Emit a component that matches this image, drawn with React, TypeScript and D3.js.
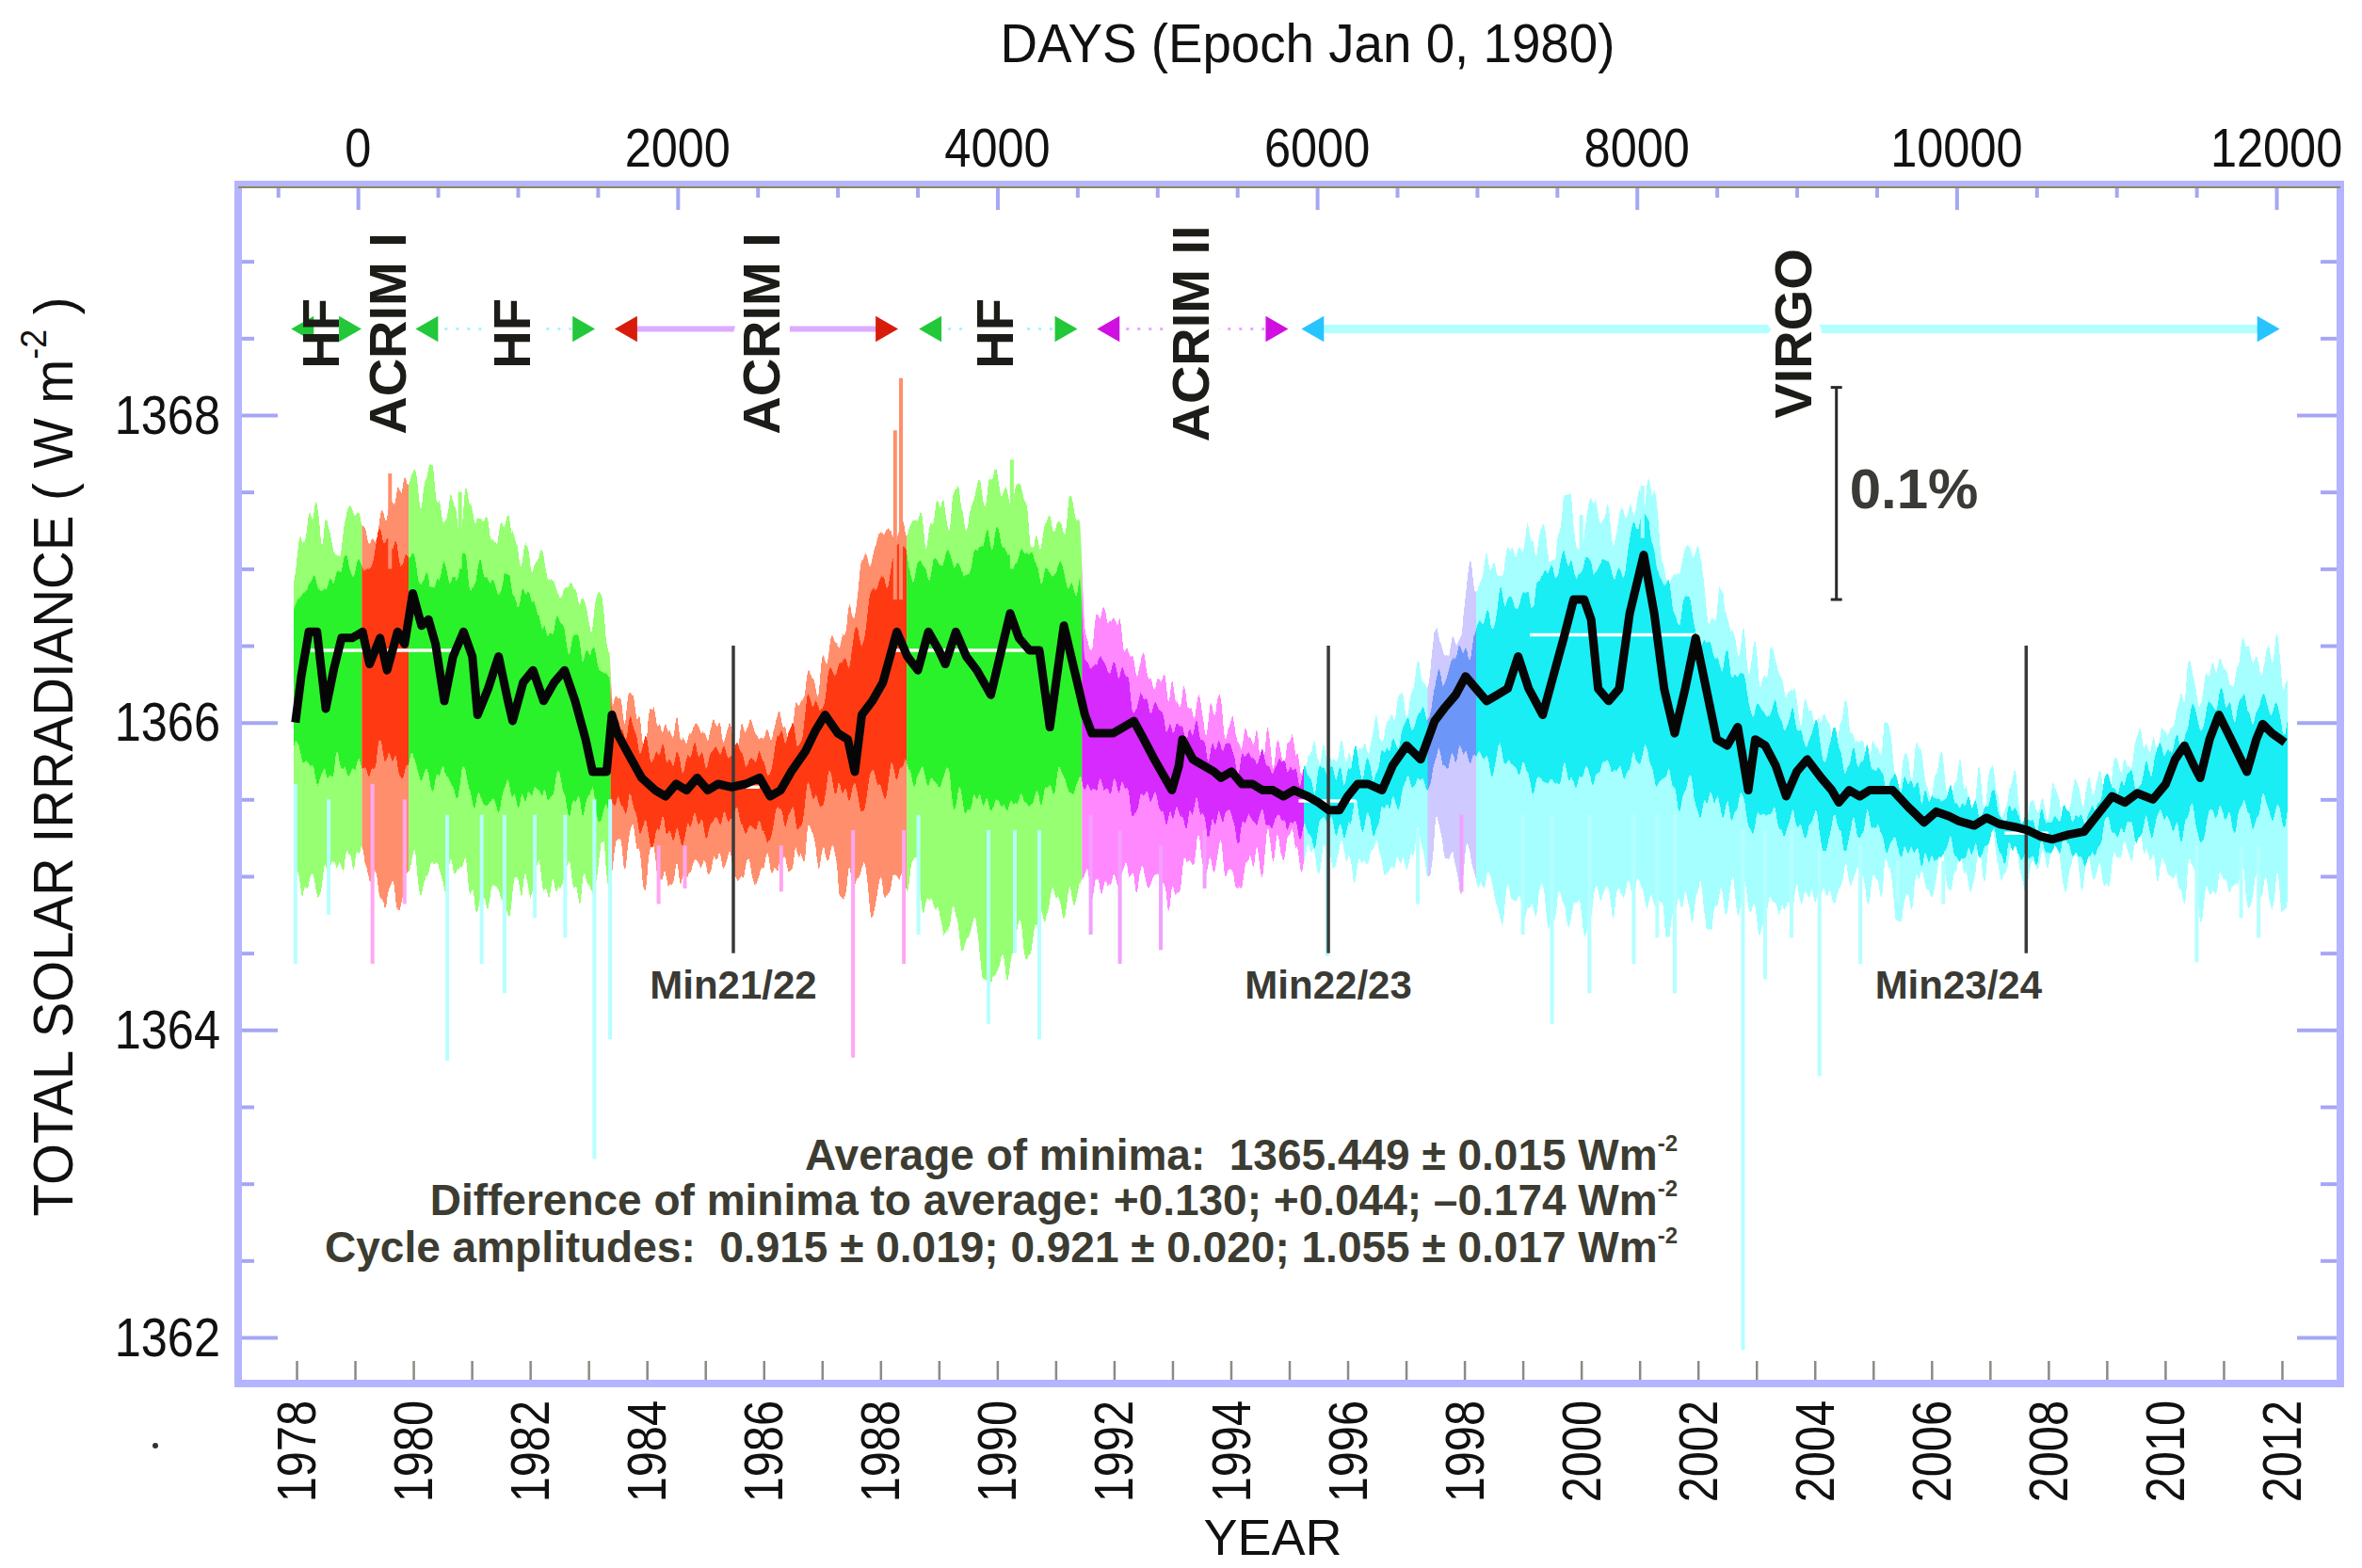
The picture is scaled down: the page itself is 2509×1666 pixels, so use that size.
import React, { useEffect, useRef } from 'react';
import * as d3 from 'd3';

const FONT = '"Liberation Sans", Arial, Helvetica, sans-serif';

// smoothed composite (black line): [year, W m-2]
const meanCurve: [number, number][] = [
  [1977.98, 1366.0], [1978.08, 1366.3], [1978.21, 1366.59], [1978.35, 1366.59], [1978.5, 1366.09],
  [1978.64, 1366.35], [1978.77, 1366.55], [1978.95, 1366.55], [1979.13, 1366.59], [1979.25, 1366.38],
  [1979.43, 1366.55], [1979.55, 1366.34], [1979.73, 1366.59], [1979.85, 1366.51], [1979.99, 1366.84],
  [1980.14, 1366.63], [1980.26, 1366.67], [1980.38, 1366.51], [1980.53, 1366.14], [1980.68, 1366.43],
  [1980.86, 1366.59], [1981.01, 1366.43], [1981.1, 1366.05], [1981.28, 1366.22], [1981.46, 1366.43],
  [1981.62, 1366.14], [1981.7, 1366.01], [1981.88, 1366.26], [1982.05, 1366.34], [1982.23, 1366.14],
  [1982.41, 1366.26], [1982.59, 1366.34], [1982.77, 1366.14], [1982.95, 1365.89], [1983.07, 1365.68],
  [1983.31, 1365.68], [1983.4, 1366.05], [1983.49, 1365.93], [1983.66, 1365.81], [1983.91, 1365.64],
  [1984.14, 1365.56], [1984.32, 1365.52], [1984.5, 1365.6], [1984.68, 1365.56], [1984.86, 1365.64],
  [1985.04, 1365.56], [1985.22, 1365.6], [1985.45, 1365.58], [1985.69, 1365.6], [1985.93, 1365.64],
  [1986.11, 1365.52], [1986.29, 1365.56], [1986.47, 1365.68], [1986.71, 1365.81], [1986.89, 1365.95],
  [1987.05, 1366.05], [1987.27, 1365.93], [1987.44, 1365.89], [1987.56, 1365.68], [1987.68, 1366.05],
  [1987.86, 1366.14], [1988.04, 1366.26], [1988.28, 1366.59], [1988.46, 1366.43], [1988.64, 1366.34],
  [1988.82, 1366.59], [1989.0, 1366.47], [1989.11, 1366.38], [1989.29, 1366.59], [1989.47, 1366.43],
  [1989.65, 1366.34], [1989.89, 1366.18], [1990.07, 1366.47], [1990.22, 1366.71], [1990.37, 1366.55],
  [1990.55, 1366.47], [1990.72, 1366.47], [1990.9, 1365.97], [1991.02, 1366.3], [1991.14, 1366.63],
  [1991.32, 1366.34], [1991.5, 1366.05], [1991.62, 1365.93], [1991.8, 1365.93], [1991.98, 1365.93],
  [1992.16, 1365.97], [1992.34, 1366.01], [1992.51, 1365.89], [1992.69, 1365.76], [1992.87, 1365.64],
  [1992.99, 1365.56], [1993.11, 1365.72], [1993.17, 1365.89], [1993.35, 1365.76], [1993.53, 1365.72],
  [1993.71, 1365.68], [1993.83, 1365.64], [1994.01, 1365.68], [1994.19, 1365.6], [1994.37, 1365.6],
  [1994.54, 1365.56], [1994.72, 1365.56], [1994.9, 1365.52], [1995.08, 1365.56], [1995.32, 1365.52],
  [1995.5, 1365.48], [1995.68, 1365.43], [1995.86, 1365.43], [1996.0, 1365.52], [1996.17, 1365.6],
  [1996.35, 1365.6], [1996.59, 1365.56], [1996.77, 1365.72], [1997.01, 1365.85], [1997.25, 1365.76],
  [1997.49, 1366.01], [1997.67, 1366.1], [1997.85, 1366.18], [1998.02, 1366.3], [1998.2, 1366.22],
  [1998.38, 1366.14], [1998.56, 1366.18], [1998.74, 1366.22], [1998.92, 1366.43], [1999.1, 1366.22],
  [1999.34, 1366.05], [1999.52, 1366.3], [1999.7, 1366.55], [1999.87, 1366.8], [2000.05, 1366.8],
  [2000.17, 1366.67], [2000.29, 1366.22], [2000.47, 1366.14], [2000.65, 1366.22], [2000.83, 1366.71],
  [2001.07, 1367.09], [2001.25, 1366.71], [2001.42, 1366.22], [2001.6, 1365.93], [2001.78, 1366.22],
  [2001.96, 1366.55], [2002.14, 1366.22], [2002.32, 1365.89], [2002.5, 1365.85], [2002.68, 1365.97],
  [2002.86, 1365.56], [2002.98, 1365.89], [2003.15, 1365.85], [2003.33, 1365.72], [2003.51, 1365.52],
  [2003.69, 1365.68], [2003.87, 1365.76], [2004.11, 1365.64], [2004.29, 1365.56], [2004.41, 1365.48],
  [2004.59, 1365.56], [2004.77, 1365.52], [2004.94, 1365.56], [2005.06, 1365.56], [2005.33, 1365.56],
  [2005.6, 1365.45], [2005.87, 1365.35], [2006.08, 1365.42], [2006.3, 1365.39], [2006.46, 1365.36],
  [2006.73, 1365.33], [2006.94, 1365.38], [2007.16, 1365.34], [2007.43, 1365.32], [2007.64, 1365.3],
  [2007.86, 1365.26], [2008.07, 1365.24], [2008.34, 1365.27], [2008.61, 1365.29], [2008.82, 1365.39],
  [2009.09, 1365.52], [2009.31, 1365.48], [2009.52, 1365.54], [2009.79, 1365.5], [2010.01, 1365.6],
  [2010.17, 1365.76], [2010.33, 1365.85], [2010.49, 1365.72], [2010.6, 1365.64], [2010.76, 1365.89],
  [2010.92, 1366.05], [2011.13, 1365.89], [2011.4, 1365.68], [2011.56, 1365.89], [2011.67, 1365.99],
  [2011.83, 1365.93], [2012.05, 1365.87],
];

// spread of the daily values: [year, outer low, inner low, inner high, outer high]
const envelope: [number, number, number, number, number][] = [
  [1977.95, 1364.95, 1365.75, 1366.6, 1366.95], [1978.5, 1365.0, 1365.7, 1366.95, 1367.3],
  [1979.0, 1365.15, 1365.7, 1366.95, 1367.25], [1979.5, 1364.9, 1365.75, 1367.15, 1367.4],
  [1980.0, 1365.0, 1365.7, 1367.05, 1367.5], [1980.5, 1365.05, 1365.65, 1367.0, 1367.45],
  [1981.0, 1364.95, 1365.55, 1366.95, 1367.3], [1981.5, 1364.9, 1365.5, 1366.85, 1367.25],
  [1982.0, 1364.95, 1365.55, 1366.75, 1367.05], [1982.5, 1365.0, 1365.55, 1366.6, 1366.85],
  [1983.0, 1365.0, 1365.45, 1366.45, 1366.7], [1983.35, 1365.05, 1365.45, 1366.4, 1366.6],
  [1983.42, 1365.2, 1365.5, 1366.05, 1366.25], [1984.0, 1365.1, 1365.3, 1365.85, 1366.0],
  [1984.5, 1365.0, 1365.3, 1365.75, 1365.9], [1985.0, 1365.05, 1365.35, 1365.8, 1365.95],
  [1985.5, 1365.1, 1365.35, 1365.8, 1365.95], [1986.0, 1365.05, 1365.3, 1365.75, 1365.9],
  [1986.5, 1365.1, 1365.4, 1365.95, 1366.1], [1987.0, 1365.15, 1365.55, 1366.15, 1366.35],
  [1987.5, 1365.0, 1365.55, 1366.45, 1366.7], [1988.0, 1364.9, 1365.6, 1366.9, 1367.2],
  [1988.5, 1364.95, 1365.7, 1367.05, 1367.35], [1989.0, 1364.8, 1365.6, 1367.0, 1367.3],
  [1989.5, 1364.6, 1365.5, 1367.1, 1367.4], [1990.0, 1364.5, 1365.45, 1367.15, 1367.45],
  [1990.5, 1364.6, 1365.5, 1367.05, 1367.35], [1991.0, 1364.8, 1365.6, 1367.0, 1367.3],
  [1991.4, 1364.85, 1365.6, 1366.95, 1367.25], [1991.5, 1364.95, 1365.6, 1366.45, 1366.7],
  [1992.0, 1365.0, 1365.55, 1366.3, 1366.6], [1992.5, 1364.95, 1365.5, 1366.15, 1366.35],
  [1993.0, 1364.95, 1365.4, 1366.0, 1366.2], [1993.5, 1365.1, 1365.4, 1365.9, 1366.05],
  [1994.0, 1365.1, 1365.35, 1365.8, 1365.95], [1994.5, 1365.15, 1365.35, 1365.75, 1365.85],
  [1995.0, 1365.2, 1365.35, 1365.7, 1365.8], [1995.5, 1365.1, 1365.3, 1365.65, 1365.75],
  [1996.0, 1365.15, 1365.35, 1365.7, 1365.8], [1996.5, 1365.05, 1365.4, 1365.75, 1365.9],
  [1997.0, 1365.15, 1365.55, 1365.95, 1366.15], [1997.5, 1365.2, 1365.7, 1366.2, 1366.4],
  [1998.0, 1365.05, 1365.8, 1366.5, 1366.8], [1998.5, 1364.9, 1365.75, 1366.7, 1367.1],
  [1999.0, 1364.8, 1365.7, 1366.85, 1367.15], [1999.5, 1364.75, 1365.6, 1366.95, 1367.25],
  [2000.0, 1364.8, 1365.65, 1367.05, 1367.3], [2000.5, 1364.85, 1365.7, 1366.95, 1367.25],
  [2001.0, 1364.9, 1365.75, 1367.25, 1367.55], [2001.5, 1364.8, 1365.6, 1366.85, 1367.1],
  [2002.0, 1364.85, 1365.5, 1366.65, 1366.95], [2002.5, 1364.85, 1365.45, 1366.35, 1366.6],
  [2003.0, 1364.8, 1365.4, 1366.15, 1366.4], [2003.5, 1364.85, 1365.35, 1366.0, 1366.2],
  [2004.0, 1364.85, 1365.3, 1365.9, 1366.05], [2004.5, 1365.0, 1365.3, 1365.8, 1365.95],
  [2005.0, 1365.0, 1365.3, 1365.7, 1365.85], [2005.5, 1364.9, 1365.2, 1365.62, 1365.75],
  [2006.0, 1365.0, 1365.15, 1365.52, 1365.65], [2006.5, 1365.05, 1365.15, 1365.48, 1365.6],
  [2007.0, 1365.1, 1365.2, 1365.45, 1365.55], [2007.5, 1365.05, 1365.15, 1365.4, 1365.48],
  [2008.0, 1365.05, 1365.15, 1365.35, 1365.42], [2008.5, 1365.05, 1365.15, 1365.4, 1365.5],
  [2009.0, 1365.1, 1365.25, 1365.55, 1365.65], [2009.5, 1365.15, 1365.3, 1365.65, 1365.8],
  [2010.0, 1365.1, 1365.35, 1365.8, 1365.95], [2010.5, 1364.9, 1365.35, 1366.0, 1366.25],
  [2011.0, 1364.9, 1365.4, 1366.1, 1366.4], [2011.5, 1364.85, 1365.4, 1366.1, 1366.45],
  [2012.1, 1365.0, 1365.45, 1366.05, 1366.4],
];

// single daily excursions outside the spread: [year, low, high]
const spikes: [number, number, number][] = [
  [1977.98, 1364.43, 1365.6], [1978.55, 1364.75, 1365.5], [1979.3, 1364.43, 1365.6], [1979.85, 1364.82, 1365.5],
  [1980.58, 1363.8, 1365.4], [1981.17, 1364.43, 1365.4], [1981.56, 1364.24, 1365.4], [1982.08, 1364.73, 1365.4],
  [1982.6, 1364.6, 1365.4], [1983.1, 1363.16, 1365.5], [1983.37, 1363.94, 1365.5], [1984.2, 1364.82, 1365.2],
  [1984.65, 1364.92, 1365.2], [1986.3, 1364.9, 1365.2], [1987.53, 1363.82, 1365.3], [1988.4, 1364.43, 1365.3],
  [1988.65, 1364.62, 1365.4], [1989.85, 1364.04, 1365.3], [1990.3, 1364.5, 1365.3], [1990.72, 1363.94, 1365.3],
  [1991.6, 1364.62, 1365.4], [1992.1, 1364.43, 1365.3], [1992.8, 1364.52, 1365.2], [1993.55, 1364.92, 1365.3],
  [1995.65, 1364.48, 1365.2], [1997.2, 1364.82, 1365.3], [1997.95, 1364.9, 1365.4], [1999.0, 1364.62, 1365.4],
  [1999.5, 1364.04, 1365.4], [2000.14, 1364.24, 1365.4], [2000.9, 1364.43, 1365.4], [2001.3, 1364.6, 1365.4],
  [2001.6, 1364.24, 1365.4], [2002.77, 1361.92, 1365.3], [2003.15, 1364.33, 1365.3], [2003.6, 1364.6, 1365.3],
  [2004.08, 1363.7, 1365.2], [2004.78, 1364.43, 1365.2], [2005.42, 1364.82, 1365.1], [2006.2, 1364.82, 1365.1],
  [2010.54, 1364.44, 1365.2], [2011.3, 1364.73, 1365.2], [2011.6, 1364.6, 1365.2],
  [1979.6, 1367.0, 1367.62], [1980.8, 1367.0, 1367.5], [1988.25, 1366.8, 1367.9], [1988.35, 1366.8, 1368.24],
  [1990.25, 1367.0, 1367.71], [2000.0, 1367.0, 1367.35], [2001.05, 1367.2, 1367.54],
];

// instrument that supplies the composite, by time (last one wins where they overlap)
const coverage = [
  { inst: 'HF', start: 1977.95, end: 1979.12 },
  { inst: 'ACRIM I', start: 1979.12, end: 1979.92 },
  { inst: 'HF', start: 1979.92, end: 1983.38 },
  { inst: 'ACRIM I', start: 1983.38, end: 1988.45 },
  { inst: 'HF', start: 1988.45, end: 1991.45 },
  { inst: 'ACRIM II', start: 1991.45, end: 1995.25 },
  { inst: 'VIRGO', start: 1995.25, end: 2012.1 },
  { inst: 'ACRIM II', start: 1997.37, end: 1998.2 },
];

// timeline at the top of the frame
const timelineSpans = [
  { inst: 'HF', start: 1978.02, end: 1979.0 },
  { inst: 'HF', start: 1980.15, end: 1983.0 },
  { inst: 'ACRIM I', start: 1983.56, end: 1988.19 },
  { inst: 'HF', start: 1988.77, end: 1991.26 },
  { inst: 'ACRIM II', start: 1991.82, end: 1994.87 },
  { inst: 'VIRGO', start: 1995.32, end: 2011.85 },
];
const timelineLabels = [
  { text: 'HF', year: 1978.41 },
  { text: 'ACRIM I', year: 1979.55 },
  { text: 'HF', year: 1981.69 },
  { text: 'ACRIM I', year: 1985.95 },
  { text: 'HF', year: 1989.95 },
  { text: 'ACRIM II', year: 1993.3 },
  { text: 'VIRGO', year: 2003.62 },
];

// cycle maximum / minimum levels (white bars)
const cycleLevels = [
  { start: 1978.24, end: 1980.8, tsi: 1366.47 },
  { start: 1984.98, end: 1985.93, tsi: 1365.58 },
  { start: 1988.16, end: 1990.79, tsi: 1366.47 },
  { start: 1995.16, end: 1996.14, tsi: 1365.49 },
  { start: 1999.12, end: 2002.02, tsi: 1366.57 },
  { start: 2007.25, end: 2008.0, tsi: 1365.28 },
];

const minima = [
  { label: 'Min21/22', year: 1985.48, labelYear: 1985.48 },
  { label: 'Min22/23', year: 1995.67, labelYear: 1995.67 },
  { label: 'Min23/24', year: 2007.62, labelYear: 2006.46 },
];
const minBarRange = [1364.5, 1366.5];

const scaleBar = { year: 2004.37, top: 1368.18, bottom: 1366.8, label: '0.1%' };

const summaryLines = [
  'Average of minima:  1365.449 \u00b1 0.015 Wm',
  'Difference of minima to average: +0.130; +0.044; \u20130.174 Wm',
  'Cycle amplitudes:  0.915 \u00b1 0.019; 0.921 \u00b1 0.020; 1.055 \u00b1 0.017 Wm',
];

const tsiLabels = [1362, 1364, 1366, 1368];
const yearLabels = [1978, 1980, 1982, 1984, 1986, 1988, 1990, 1992, 1994, 1996, 1998, 2000, 2002, 2004, 2006, 2008, 2010, 2012];
const dayLabels = [0, 2000, 4000, 6000, 8000, 10000, 12000];

const instStyle: Record<string, any> = {
  HF: { inner: '#2af22a', outer: '#96ff72', spike: '#b6ffff', mark: '#22c83a', line: '#a8f4ff', lw: 3, dash: '3 9' },
  'ACRIM I': { inner: '#ff3a12', outer: '#ff8e6c', spike: '#ffa6f2', mark: '#d81c0c', line: '#dcaaff', lw: 6, dash: null },
  'ACRIM II': { inner: '#d62aff', outer: '#ff88ff', spike: '#f2a0ff', mark: '#d010e0', line: '#e4a8ff', lw: 3, dash: '3 9' },
  VIRGO: { inner: '#18eef4', outer: '#a6ffff', spike: '#b4ffff', mark: '#28c4ff', line: '#b2ffff', lw: 9, dash: null },
};

const App = () => {
  const svgRef = useRef<SVGSVGElement | null>(null);

  useEffect(() => {
    const width = 2509;
    const height = 1666;
    const margin = { top: 196, right: 23, bottom: 196, left: 253 };
    const svg = d3.select(svgRef.current);
    svg.selectAll('*').remove();

    const x = d3.scaleLinear().domain([1977, 2013]).range([margin.left, width - margin.right]);
    const y = d3.scaleLinear().domain([1361.7, 1369.5]).range([height - margin.bottom, margin.top]);
    // the DAYS axis of the figure puts day 0 here on the YEAR axis
    const dayZeroYear = 1979.05;
    const xDays = d3.scaleLinear()
      .domain(x.domain().map(v => (v - dayZeroYear) * 365.25))
      .range(x.range());

    const addText = (parent: any, px: number, py: number, str: string, o: any = {}) =>
      parent.append('text')
        .attr('transform', `translate(${px},${py})${o.rotate ? ` rotate(${o.rotate})` : ''}${o.sx ? ` scale(${o.sx},1)` : ''}`)
        .attr('text-anchor', o.anchor || 'middle')
        .attr('dominant-baseline', o.baseline || 'auto')
        .attr('font-family', FONT)
        .attr('font-size', o.size || 56)
        .attr('font-weight', o.weight || 'normal')
        .attr('fill', o.fill || '#111')
        .style('white-space', 'pre')
        .text(str);

    const defs = svg.append('defs');
    // streaky look of daily data: shift the band edges up/down column by column
    const streak = (id: string, seed: number, amount: number) => {
      const f = defs.append('filter').attr('id', id)
        .attr('x', '-2%').attr('y', '-25%').attr('width', '104%').attr('height', '150%')
        .attr('color-interpolation-filters', 'sRGB');
      f.append('feTurbulence').attr('type', 'fractalNoise').attr('baseFrequency', '0.09 0.0012')
        .attr('numOctaves', 2).attr('seed', seed).attr('result', 'noise');
      f.append('feColorMatrix').attr('in', 'noise').attr('type', 'matrix')
        .attr('values', '0 0 0 0 0.5  0 1 0 0 0  0 0 0 0 0  0 0 0 0 1').attr('result', 'flat');
      const ct = f.append('feComponentTransfer').attr('in', 'flat').attr('result', 'shift');
      ct.append('feFuncG').attr('type', 'linear').attr('slope', 2.2).attr('intercept', -0.6);
      f.append('feDisplacementMap').attr('in', 'SourceGraphic').attr('in2', 'shift')
        .attr('scale', amount).attr('xChannelSelector', 'R').attr('yChannelSelector', 'G');
    };
    streak('streak-outer', 4, 64);
    streak('streak-inner', 9, 44);

    const plot = svg.append('g');

    // daily spread, coloured by instrument
    const outerArea = d3.area<number[]>().x(d => x(d[0])).y0(d => y(d[1])).y1(d => y(d[4])).curve(d3.curveMonotoneX);
    const innerArea = d3.area<number[]>().x(d => x(d[0])).y0(d => y(d[2])).y1(d => y(d[3])).curve(d3.curveMonotoneX);
    coverage.forEach((c, i) => {
      defs.append('clipPath').attr('id', `cov-${i}`).append('rect')
        .attr('x', x(c.start)).attr('width', x(c.end) - x(c.start))
        .attr('y', margin.top).attr('height', height - margin.top - margin.bottom);
      const st = instStyle[c.inst];
      const overlay = i === coverage.length - 1;
      const g = plot.append('g').attr('clip-path', `url(#cov-${i})`).attr('opacity', overlay ? 0.45 : 1);
      g.append('path').attr('d', outerArea(envelope as any)).attr('fill', st.outer).attr('filter', 'url(#streak-outer)');
      g.append('path').attr('d', innerArea(envelope as any)).attr('fill', st.inner).attr('filter', 'url(#streak-inner)');
    });

    const instAt = (yr: number) => {
      let found = coverage[0].inst;
      coverage.forEach(c => { if (yr >= c.start && yr < c.end) found = c.inst; });
      return found;
    };
    plot.append('g').selectAll('line').data(spikes).enter().append('line')
      .attr('x1', d => x(d[0])).attr('x2', d => x(d[0]))
      .attr('y1', d => y(d[1])).attr('y2', d => y(d[2]))
      .attr('stroke', d => (d[1] > 1366.5 ? instStyle[instAt(d[0])].outer : instStyle[instAt(d[0])].spike))
      .attr('stroke-width', 4);

    // cycle levels
    plot.append('g').selectAll('line').data(cycleLevels).enter().append('line')
      .attr('x1', d => x(d.start)).attr('x2', d => x(d.end))
      .attr('y1', d => y(d.tsi)).attr('y2', d => y(d.tsi))
      .attr('stroke', '#ffffff').attr('stroke-width', 3.5);

    // minima markers
    plot.append('g').selectAll('line').data(minima).enter().append('line')
      .attr('x1', d => x(d.year)).attr('x2', d => x(d.year))
      .attr('y1', y(minBarRange[0])).attr('y2', y(minBarRange[1]))
      .attr('stroke', '#3a3a3a').attr('stroke-width', 3.5);

    // smoothed composite
    const line = d3.line<[number, number]>().x(d => x(d[0])).y(d => y(d[1]));
    plot.append('path').attr('d', line(meanCurve))
      .attr('fill', 'none').attr('stroke', '#060606').attr('stroke-width', 9)
      .attr('stroke-linejoin', 'round');

    minima.forEach(m => {
      addText(plot, x(m.labelYear), y(1364.29), m.label, { size: 42, weight: 'bold', fill: '#3a3a34', baseline: 'central' });
    });

    // 0.1 % scale bar
    const sb = plot.append('g').attr('stroke', '#2a2a2a').attr('stroke-width', 3);
    sb.append('line').attr('x1', x(scaleBar.year)).attr('x2', x(scaleBar.year)).attr('y1', y(scaleBar.top)).attr('y2', y(scaleBar.bottom));
    [scaleBar.top, scaleBar.bottom].forEach(v => {
      sb.append('line').attr('x1', x(scaleBar.year) - 6).attr('x2', x(scaleBar.year) + 6).attr('y1', y(v)).attr('y2', y(v));
    });
    addText(plot, x(scaleBar.year) + 14, 540, scaleBar.label, { size: 60, weight: 'bold', anchor: 'start', fill: '#3a3a36' });

    // summary text
    summaryLines.forEach((s, i) => {
      const t = addText(plot, 1782, [1243, 1291, 1341][i], s, { size: 46, weight: 'bold', anchor: 'end', fill: '#3c3c32' });
      t.append('tspan').attr('dy', -20).attr('font-size', 24).text('-2');
    });

    // instrument timeline
    const tlY = y(1368.56);
    const tl = plot.append('g');
    timelineSpans.forEach(s => {
      const st = instStyle[s.inst];
      tl.append('line').attr('x1', x(s.start)).attr('x2', x(s.end)).attr('y1', tlY).attr('y2', tlY)
        .attr('stroke', st.line).attr('stroke-width', st.lw)
        .attr('stroke-dasharray', st.dash || null);
    });
    const labY = y(1368.53);
    timelineLabels.forEach(l => {
      addText(tl, x(l.year), labY, l.text, { rotate: -90, size: 56, weight: 'bold', baseline: 'central', fill: '#fff' })
        .attr('stroke', '#fff').attr('stroke-width', 22).attr('stroke-linejoin', 'round');
    });
    const tri = d3.symbol().type(d3.symbolTriangle).size(330);
    timelineSpans.forEach(s => {
      const st = instStyle[s.inst];
      tl.append('path').attr('d', tri()).attr('fill', st.mark)
        .attr('transform', `translate(${x(s.start) + 9},${tlY}) rotate(-90)`);
      tl.append('path').attr('d', tri()).attr('fill', st.mark)
        .attr('transform', `translate(${x(s.end) - 9},${tlY}) rotate(90)`);
    });
    timelineLabels.forEach(l => {
      addText(tl, x(l.year), labY, l.text, { rotate: -90, size: 56, weight: 'bold', baseline: 'central', fill: '#1c1c18' });
    });

    // axes (ticks point inward)
    const drawTicks = (axis: any, tx: number, ty: number) => {
      const g = svg.append('g').attr('transform', `translate(${tx},${ty})`).call(axis);
      g.select('.domain').remove();
      g.selectAll('text').remove();
      g.selectAll('line').attr('stroke', '#a6a6f4').attr('stroke-width', 4);
      return g;
    };
    const tsiMinor = d3.range(1362, 1369.01, 0.5).filter(v => !tsiLabels.includes(v));
    drawTicks(d3.axisLeft(y).tickValues(tsiMinor).tickSize(-17), margin.left, 0);
    drawTicks(d3.axisLeft(y).tickValues(tsiLabels).tickSize(-42), margin.left, 0);
    drawTicks(d3.axisRight(y).tickValues(tsiMinor).tickSize(-21), width - margin.right, 0);
    drawTicks(d3.axisRight(y).tickValues(tsiLabels).tickSize(-46), width - margin.right, 0);
    drawTicks(d3.axisBottom(x).tickValues(d3.range(1978, 2013, 1)).tickSize(-24), 0, height - margin.bottom)
      .selectAll('line').attr('stroke', '#8c8a84').attr('stroke-width', 2.5);
    drawTicks(d3.axisTop(xDays).tickValues(d3.range(-500, 12001, 500).filter(v => v % 2000 !== 0)).tickSize(-14), 0, margin.top);
    drawTicks(d3.axisTop(xDays).tickValues(dayLabels).tickSize(-27), 0, margin.top);

    svg.append('rect')
      .attr('x', margin.left).attr('y', margin.top)
      .attr('width', width - margin.left - margin.right).attr('height', height - margin.top - margin.bottom)
      .attr('fill', 'none').attr('stroke', '#b4b4ff').attr('stroke-width', 8);
    svg.append('line')
      .attr('x1', margin.left).attr('x2', width - margin.right)
      .attr('y1', margin.top + 3).attr('y2', margin.top + 3)
      .attr('stroke', '#8c8a60').attr('stroke-width', 2);

    // tick labels
    const axisText = svg.append('g');
    tsiLabels.forEach(v => addText(axisText, 234, y(v), String(v), { size: 58, sx: 0.87, anchor: 'end', baseline: 'central' }));
    yearLabels.forEach(v => addText(axisText, x(v), 1488, String(v), { size: 58, sx: 0.84, rotate: -90, anchor: 'end', baseline: 'central' }));
    dayLabels.forEach(v => addText(axisText, xDays(v), 177, String(v), { size: 58, sx: 0.87 }));

    // axis titles
    addText(axisText, 1389, 66, 'DAYS (Epoch Jan 0, 1980)', { size: 57, sx: 0.96 });
    addText(axisText, 1352, 1652, 'YEAR', { size: 54 });
    const yt = addText(axisText, 56, 804, 'TOTAL SOLAR IRRADIANCE ( W m', { size: 60, sx: 0.94, rotate: -90, baseline: 'central' });
    yt.append('tspan').attr('dy', -20).attr('font-size', 38).text('-2');
    yt.append('tspan').attr('dy', 20).text(' )');

    svg.append('circle').attr('cx', 165).attr('cy', 1536).attr('r', 3).attr('fill', '#333');
  }, []);

  return (
    <div style={{ position: 'absolute', left: 0, top: 0 }}>
      <svg ref={svgRef} width={2509} height={1666} style={{ display: 'block', background: '#fff' }} />
    </div>
  );
};

export default App;
